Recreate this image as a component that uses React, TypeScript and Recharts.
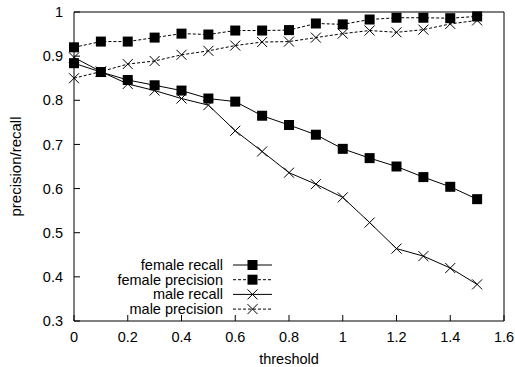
import { LineChart, Line, XAxis, YAxis } from "recharts";

const thresholds = [0, 0.1, 0.2, 0.3, 0.4, 0.5, 0.6, 0.7, 0.8, 0.9, 1.0, 1.1, 1.2, 1.3, 1.4, 1.5];
const femaleRecall = [0.884, 0.864, 0.846, 0.834, 0.822, 0.804, 0.797, 0.765, 0.744, 0.722, 0.69, 0.669, 0.65, 0.626, 0.604, 0.576];
const femalePrecision = [0.92, 0.933, 0.933, 0.942, 0.951, 0.949, 0.958, 0.958, 0.959, 0.974, 0.972, 0.983, 0.987, 0.987, 0.986, 0.99];
const maleRecall = [0.897, 0.865, 0.837, 0.822, 0.804, 0.789, 0.731, 0.684, 0.636, 0.61, 0.58, 0.523, 0.464, 0.447, 0.42, 0.383];
const malePrecision = [0.85, 0.865, 0.882, 0.889, 0.903, 0.912, 0.924, 0.932, 0.933, 0.942, 0.951, 0.958, 0.954, 0.96, 0.973, 0.981];

const xTicks = [0, 0.2, 0.4, 0.6, 0.8, 1, 1.2, 1.4, 1.6];
const yTicks = [0.3, 0.4, 0.5, 0.6, 0.7, 0.8, 0.9, 1];

const data = thresholds.map((t, i) => ({
  t,
  fr: femaleRecall[i],
  fp: femalePrecision[i],
  mr: maleRecall[i],
  mp: malePrecision[i],
}));

const SERIES = [
  { key: "fr", name: "female recall", marker: "square", dash: undefined as string | undefined },
  { key: "fp", name: "female precision", marker: "square", dash: "3 2" },
  { key: "mr", name: "male recall", marker: "cross", dash: undefined },
  { key: "mp", name: "male precision", marker: "cross", dash: "3 2" },
];

const FONT = '"Liberation Sans", Arial, Helvetica, sans-serif';

function Marker({ type, cx, cy }: { type: string; cx: number; cy: number }) {
  if (type === "square") {
    return <rect x={cx - 5} y={cy - 5} width={10} height={10} fill="#000" />;
  }
  return (
    <path
      d={`M${cx - 5},${cy - 5}L${cx + 5},${cy + 5}M${cx - 5},${cy + 5}L${cx + 5},${cy - 5}`}
      stroke="#000"
      strokeWidth={1}
      fill="none"
    />
  );
}

const makeDot = (type: string) => (p: any) =>
  <Marker key={`${type}-${p.index}-${p.dataKey}`} type={type} cx={p.cx} cy={p.cy} />;

// gnuplot-style key, bottom left inside the frame
function KeyBox() {
  return (
    <svg width={290} height={70} style={{ position: "absolute", left: 0, top: 255, fontFamily: FONT }}>
      {SERIES.map((s, i) => {
        const y = 10 + i * 14.7;
        return (
          <g key={s.key}>
            <text x={223} y={y + 5} textAnchor="end" fontSize={14.5} fill="#000">{s.name}</text>
            <line x1={233} x2={272} y1={y} y2={y} stroke="#000" strokeDasharray={s.dash} />
            <Marker type={s.marker} cx={252.5} cy={y} />
          </g>
        );
      })}
    </svg>
  );
}

export default function App() {
  const tickStyle = { fontSize: 14.5, fill: "#000" };
  return (
    <div style={{ position: "relative", width: 515, height: 367, fontFamily: FONT, background: "#fff" }}>
      <style>{"body{margin:0}"}</style>
      <LineChart width={515} height={367} data={data} margin={{ top: 12, right: 11, bottom: 0, left: 0 }}>
        <XAxis
          xAxisId="b"
          dataKey="t"
          type="number"
          domain={[0, 1.6]}
          ticks={xTicks}
          height={46}
          tick={tickStyle}
          tickSize={-6}
          tickMargin={17}
          stroke="#000"
          label={{ value: "threshold", position: "insideBottom", offset: 3, style: { fontSize: 14.5, fill: "#000" } }}
        />
        <XAxis
          xAxisId="t"
          dataKey="t"
          type="number"
          orientation="top"
          mirror
          domain={[0, 1.6]}
          ticks={xTicks}
          tick={false}
          tickSize={6}
          stroke="#000"
        />
        <YAxis
          yAxisId="l"
          type="number"
          domain={[0.3, 1]}
          ticks={yTicks}
          width={74}
          tick={tickStyle}
          tickSize={-6}
          tickMargin={17}
          stroke="#000"
          label={{
            value: "precision/recall",
            angle: -90,
            position: "insideLeft",
            offset: 16,
            style: { fontSize: 15, fill: "#000", textAnchor: "middle" },
          }}
        />
        <YAxis
          yAxisId="r"
          type="number"
          orientation="right"
          mirror
          domain={[0.3, 1]}
          ticks={yTicks}
          tick={false}
          tickSize={6}
          stroke="#000"
        />
        {SERIES.map((s) => (
          <Line
            key={s.key}
            xAxisId="b"
            yAxisId="l"
            dataKey={s.key}
            name={s.name}
            type="linear"
            stroke="#000"
            strokeWidth={1}
            strokeDasharray={s.dash}
            dot={makeDot(s.marker)}
            activeDot={false}
            isAnimationActive={false}
          />
        ))}
      </LineChart>
      <KeyBox />
    </div>
  );
}
